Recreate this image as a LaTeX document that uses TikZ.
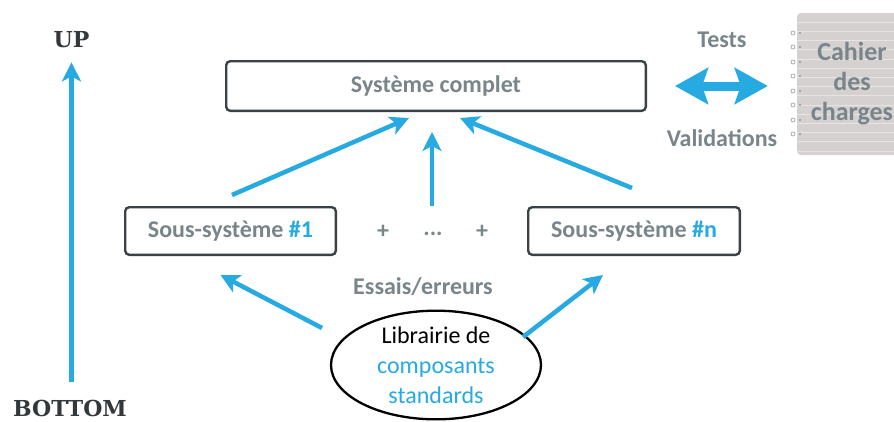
\documentclass[tikz,border=0pt]{standalone}
\usepackage{fontspec}
\setmainfont{Carlito}
\newfontfamily\slabfont{DejaVu Serif}
\usetikzlibrary{arrows.meta,shapes.geometric}
\definecolor{cy}{RGB}{38,170,225}
\definecolor{graytxt}{RGB}{120,133,138}
\definecolor{boxc}{RGB}{58,66,70}
\definecolor{darktxt}{RGB}{50,56,60}
\definecolor{paper}{RGB}{214,209,209}
\definecolor{paperline}{RGB}{232,228,228}
\definecolor{ringc}{RGB}{150,150,150}
\tikzset{
  sysbox/.style={draw=boxc, line width=2.4pt, rounded corners=4pt, inner sep=0pt,
    font=\bfseries\fontsize{24}{29}\selectfont, text=graytxt},
  lbl/.style={font=\bfseries\fontsize{24}{29}\selectfont, text=graytxt, inner sep=0pt},
  slab/.style={font=\slabfont\bfseries\fontsize{22}{26}\selectfont, text=darktxt, inner sep=0pt},
  arr/.style={draw=cy, line width=4.5pt, -{Stealth[length=19pt,width=19pt,inset=5pt]}},
  bigarr/.style={draw=cy, line width=9pt,
    {Stealth[length=33pt,width=36pt,inset=6pt]}-{Stealth[length=33pt,width=36pt,inset=6pt]}},
  libell/.style={ellipse, draw=black, line width=2.3pt, align=center, inner sep=0pt,
    font=\fontsize{24}{30}\selectfont, text=black},
  paperbox/.style={fill=paper, rounded corners=4pt, inner sep=0pt, align=center,
    font=\bfseries\fontsize{26}{30}\selectfont, text=graytxt}
}
\begin{document}
\begin{tikzpicture}[x=1pt,y=-1pt]
\useasboundingbox (0,0) rectangle (894,421);

% labels UP / BOTTOM
\node[slab] (up) at (71.5,40) {UP};
\node[slab] (bottom) at (70,408) {BOTTOM};
\draw[arr, shorten <=17pt, shorten >=14pt] (up.south |- bottom.north) -- (up.south);

% boxes
\node[sysbox, minimum width=419.6pt, minimum height=49.6pt] (sys) at (436,86) {Système complet};
\node[sysbox, minimum width=210.6pt, minimum height=47.6pt] (s1) at (230.5,231) {Sous-système \textcolor{cy}{\#1}};
\node[sysbox, minimum width=211.6pt, minimum height=47.6pt] (s2) at (634,231) {Sous-système \textcolor{cy}{\#n}};

\node[lbl] (p1) at (383,232) {+};
\node[lbl] (dots) at (433,234) {...};
\node[lbl] (p2) at (482,232) {+};

\node[lbl] (essais) at (423,287) {Essais/erreurs};

% library ellipse
\node[libell, minimum width=210pt, minimum height=98pt] (lib) at (436,365)
  {Librairie de\\\textcolor{cy}{composants}\\\textcolor{cy}{standards}};

% up arrows
\draw[arr] ([xshift=1.5pt,yshift=11pt]s1.north) -- ([xshift=-27pt,yshift=-6pt]sys.south);
\draw[arr] ([xshift=-1pt,yshift=26pt]dots.north) -- ([xshift=-4pt,yshift=-20pt]sys.south);
\draw[arr] ([xshift=-2pt,yshift=18pt]s2.north) -- ([xshift=24pt,yshift=-6pt]sys.south);

% lower arrows
\draw[arr] ([xshift=-114pt,yshift=37pt]lib.center) -- ([xshift=-10pt,yshift=-19pt]s1.south);
\draw[arr] ([xshift=87pt,yshift=28pt]lib.center) -- ([xshift=-31pt,yshift=-19pt]s2.south);

% cahier des charges
\node[paperbox, minimum width=110pt, minimum height=142pt,
  path picture={\foreach \k in {1,...,15}
    \draw[paperline, line width=0.7pt] ([yshift=-\k*9.2pt]path picture bounding box.north west) -- ++(130pt,0);}]
  (cah) at (852,84) {Cahier\\des\\charges};
\foreach \yy in {33,47,62,76,91,105,120,134} {
  \draw[ringc, line width=0.6pt] (793,\yy) circle (2pt);
  \fill[ringc] (800,\yy) circle (1.2pt);
}

% tests / validations
\node[lbl] (tests) at (722,40) {Tests};
\node[lbl] (valid) at (722,138) {Validations};
\draw[bigarr] ([xshift=28pt]sys.east) -- ([xshift=-29pt]sys.east -| cah.west);
\end{tikzpicture}
\end{document}
